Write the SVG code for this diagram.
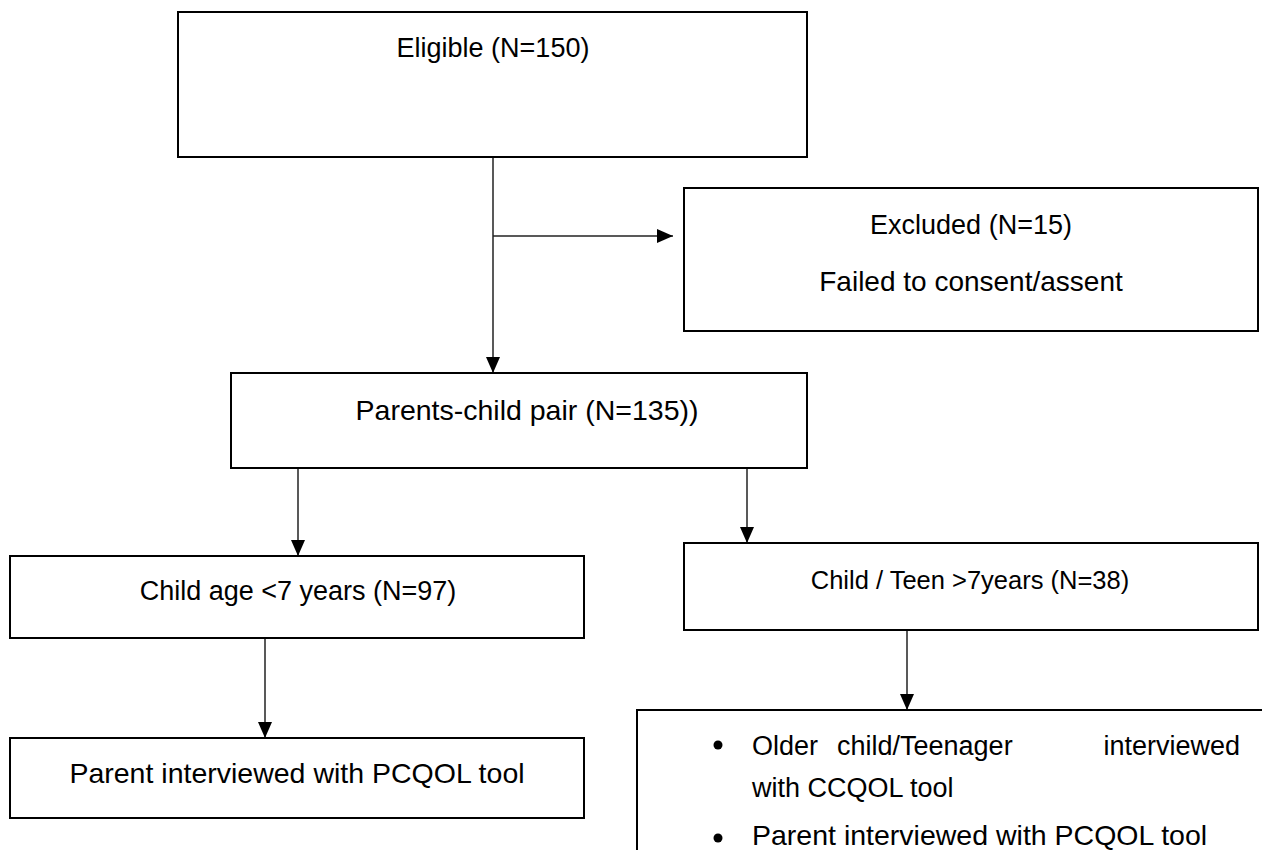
<svg xmlns="http://www.w3.org/2000/svg" width="1262" height="850" viewBox="0 0 1262 850">
<style>
.box{fill:#fff;stroke:#000;stroke-width:2}
.t{font-family:"Liberation Sans",Arial,sans-serif;font-size:27px;fill:#000}
.c{text-anchor:middle}
.ln{stroke:#222;stroke-width:1.5;fill:none}
</style>
<defs>
<marker id="ah2" markerWidth="16" markerHeight="16" refX="16" refY="8" orient="auto" markerUnits="userSpaceOnUse" viewBox="0 0 16 16">
<path d="M0,1 L16,8 L0,15 z" fill="#000"/>
</marker>
</defs>
<rect width="1262" height="850" fill="#fff"/>
<g id="connectors">
<line class="ln" x1="493" y1="157" x2="493" y2="373" marker-end="url(#ah2)"/>
<line class="ln" x1="493" y1="236" x2="673" y2="236" marker-end="url(#ah2)"/>
<line class="ln" x1="298" y1="468" x2="298" y2="556" marker-end="url(#ah2)"/>
<line class="ln" x1="747" y1="468" x2="747" y2="543" marker-end="url(#ah2)"/>
<line class="ln" x1="265" y1="638" x2="265" y2="738" marker-end="url(#ah2)"/>
<line class="ln" x1="907" y1="630" x2="907" y2="710" marker-end="url(#ah2)"/>
</g>
<g id="eligible">
<rect class="box" x="178" y="12" width="629" height="145"/>
<text class="t c" x="493" y="57">Eligible (N=150)</text>
</g>
<g id="excluded">
<rect class="box" x="684" y="188" width="574" height="143"/>
<text class="t c" x="971" y="234">Excluded (N=15)</text>
<text class="t c" x="971" y="291" style="font-size:28px">Failed to consent/assent</text>
</g>
<g id="pair">
<rect class="box" x="231" y="373" width="576" height="95"/>
<text class="t c" x="527" y="420" style="font-size:28.5px">Parents-child pair (N=135))</text>
</g>
<g id="young">
<rect class="box" x="10" y="556" width="574" height="82"/>
<text class="t c" x="298" y="600">Child age &lt;7 years (N=97)</text>
</g>
<g id="older">
<rect class="box" x="684" y="543" width="574" height="87"/>
<text class="t c" x="970" y="589" style="font-size:25.5px">Child / Teen &gt;7years (N=38)</text>
</g>
<g id="parent-only">
<rect class="box" x="10" y="738" width="574" height="80"/>
<text class="t c" x="297" y="783" style="font-size:28.5px">Parent interviewed with PCQOL tool</text>
</g>
<g id="both">
<path class="box" d="M637,851 L637,710 L1263,710" fill="none"/>
<circle cx="718" cy="745" r="4.5"/>
<text class="t" x="752" y="755">Older</text>
<text class="t" x="837" y="755">child/Teenager</text>
<text class="t" x="1240" y="755" text-anchor="end">interviewed</text>
<text class="t" x="752" y="797">with CCQOL tool</text>
<circle cx="718" cy="838" r="4.5"/>
<text class="t" x="752" y="845" style="font-size:28.5px">Parent interviewed with PCQOL tool</text>
</g>
</svg>
